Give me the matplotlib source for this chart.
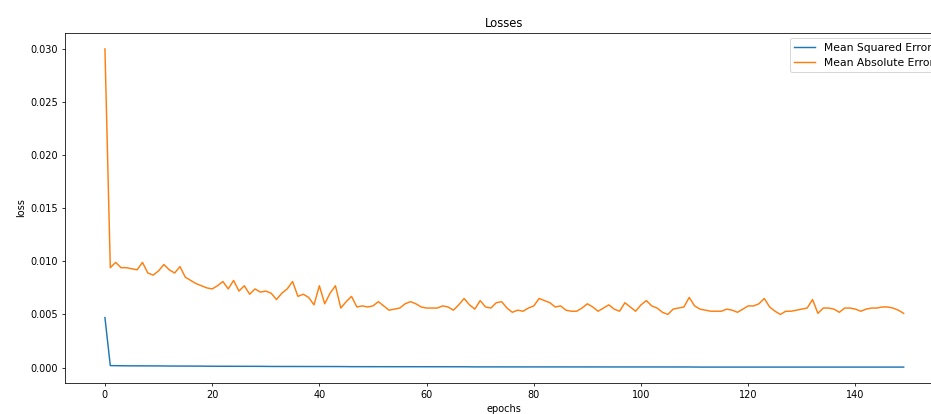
import matplotlib
matplotlib.use("Agg")
import matplotlib.pyplot as plt

mae = [
    0.0300, 0.0094, 0.0099, 0.0094, 0.0094, 0.0093, 0.0092, 0.0099, 0.0089, 0.0087,
    0.0091, 0.0097, 0.0092, 0.0089, 0.0095, 0.0085, 0.0082, 0.0079, 0.0077, 0.0075,
    0.0074, 0.0077, 0.0081, 0.0074, 0.0082, 0.0072, 0.0077, 0.0069, 0.0074, 0.0071,
    0.0072, 0.0070, 0.0064, 0.0070, 0.0074, 0.0081, 0.0067, 0.0069, 0.0066, 0.0059,
    0.0077, 0.0060, 0.0070, 0.0077, 0.0056, 0.0062, 0.0067, 0.0057, 0.0058, 0.0057,
    0.0058, 0.0062, 0.0058, 0.0054, 0.0055, 0.0056, 0.0060, 0.0062, 0.0060, 0.0057,
    0.0056, 0.0056, 0.0056, 0.0058, 0.0057, 0.0054, 0.0059, 0.0065, 0.0059, 0.0055,
    0.0063, 0.0057, 0.0056, 0.0061, 0.0062, 0.0056, 0.0052, 0.0054, 0.0053, 0.0056,
    0.0058, 0.0065, 0.0063, 0.0061, 0.0057, 0.0058, 0.0054, 0.0053, 0.0053, 0.0056,
    0.0060, 0.0057, 0.0053, 0.0056, 0.0059, 0.0055, 0.0053, 0.0061, 0.0057, 0.0053,
    0.0059, 0.0063, 0.0058, 0.0056, 0.0052, 0.0050, 0.0055, 0.0056, 0.0057, 0.0066,
    0.0058, 0.0055, 0.0054, 0.0053, 0.0053, 0.0053, 0.0055, 0.0054, 0.0052, 0.0055,
    0.0058, 0.0058, 0.0060, 0.0065, 0.0057, 0.0053, 0.0050, 0.0053, 0.0053, 0.0054,
    0.0055, 0.0056, 0.0064, 0.0051, 0.0056, 0.0056, 0.0055, 0.0052, 0.0056, 0.0056,
    0.0055, 0.0053, 0.0055, 0.0056, 0.0056, 0.0057, 0.0057, 0.0056, 0.0054, 0.0051,
]

mse = [
    0.00470, 0.00018, 0.00017, 0.00017, 0.00016, 0.00016, 0.00016, 0.00015, 0.00015, 0.00015,
    0.00015, 0.00014, 0.00014, 0.00014, 0.00014, 0.00013, 0.00013, 0.00013, 0.00013, 0.00012,
    0.00012, 0.00012, 0.00012, 0.00012, 0.00011, 0.00011, 0.00011, 0.00011, 0.00011, 0.00011,
    0.00010, 0.00010, 0.00010, 0.00010, 0.00010, 0.00010, 0.00010, 0.00009, 0.00009, 0.00009,
    0.00009, 0.00009, 0.00009, 0.00009, 0.00009, 0.00008, 0.00008, 0.00008, 0.00008, 0.00008,
    0.00008, 0.00008, 0.00008, 0.00008, 0.00008, 0.00007, 0.00007, 0.00007, 0.00007, 0.00007,
    0.00007, 0.00007, 0.00007, 0.00007, 0.00007, 0.00007, 0.00007, 0.00007, 0.00006, 0.00006,
    0.00006, 0.00006, 0.00006, 0.00006, 0.00006, 0.00006, 0.00006, 0.00006, 0.00006, 0.00006,
    0.00006, 0.00006, 0.00006, 0.00006, 0.00006, 0.00005, 0.00005, 0.00005, 0.00005, 0.00005,
    0.00005, 0.00005, 0.00005, 0.00005, 0.00005, 0.00005, 0.00005, 0.00005, 0.00005, 0.00005,
    0.00005, 0.00005, 0.00005, 0.00005, 0.00005, 0.00005, 0.00005, 0.00005, 0.00005, 0.00005,
    0.00004, 0.00004, 0.00004, 0.00004, 0.00004, 0.00004, 0.00004, 0.00004, 0.00004, 0.00004,
    0.00004, 0.00004, 0.00004, 0.00004, 0.00004, 0.00004, 0.00004, 0.00004, 0.00004, 0.00004,
    0.00004, 0.00004, 0.00004, 0.00004, 0.00004, 0.00004, 0.00004, 0.00004, 0.00004, 0.00004,
    0.00004, 0.00004, 0.00004, 0.00004, 0.00004, 0.00004, 0.00004, 0.00004, 0.00004, 0.00004,
]

epochs = list(range(len(mae)))

fig = plt.figure(figsize=(931 / 70, 414 / 70), dpi=70)
ax = fig.add_axes([65 / 931, 1 - 383 / 414, (943.6 - 65) / 931, (383 - 33) / 414])
ax.plot(epochs, mse, label="Mean Squared Error")
ax.plot(epochs, mae, label="Mean Absolute Error")
ax.set_title("Losses")
ax.set_xlabel("epochs")
ax.set_ylabel("loss")
ax.legend(loc="upper right", fontsize=11)
fig.savefig("out.png", dpi=70)
